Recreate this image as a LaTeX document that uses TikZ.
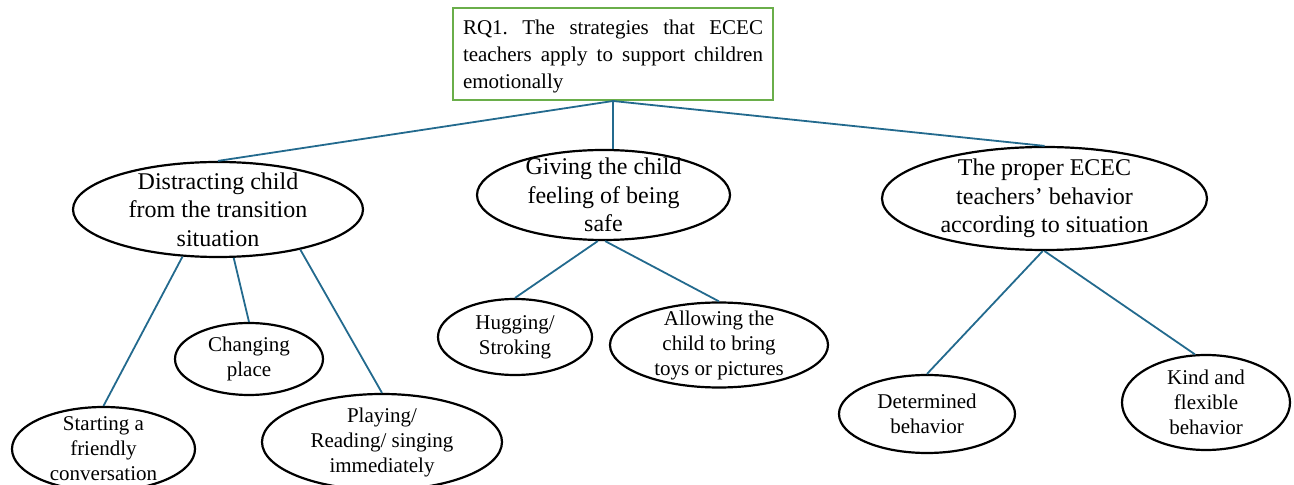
\documentclass[tikz,border=0pt]{standalone}
\usepackage{fontspec}
\setmainfont{Liberation Serif}
\frenchspacing
\usetikzlibrary{shapes.geometric}
\definecolor{rqgreen}{RGB}{106,174,74}
\definecolor{linkblue}{RGB}{35,106,142}
\tikzset{rq box/.style = {draw=rqgreen, line width=1pt, text width=150pt, text height=10pt, align=justify, inner xsep=5pt, minimum height=46pt, font=\fontsize{10.5}{13.5}\selectfont}}
\tikzset{theme oval/.style = {ellipse, draw, line width=1.1pt, inner sep=-30pt, align=center, font=\fontsize{12}{14.3}\selectfont}}
\tikzset{code oval/.style = {ellipse, draw, line width=1.1pt, inner sep=-30pt, align=center, font=\fontsize{10.5}{12.5}\selectfont}}
\tikzset{link/.style = {draw=linkblue, line width=0.9pt}}

\begin{document}
\begin{tikzpicture}[x=0.5pt, y=-0.5pt]
	\useasboundingbox (0,0) rectangle (1294,485);
	
	\node[rq box] (rq) at (613,54) {RQ1. The strategies that ECEC teachers apply to support children emotionally};
	
	\node[theme oval, minimum width=145pt, minimum height=47.5pt] (distract) at (218,209.5) {Distracting child\\from the transition\\situation};
	\node[theme oval, minimum width=126.5pt, minimum height=45pt] (safe) at (603.5,195) {Giving the child\\feeling of being\\safe};
	\node[theme oval, minimum width=162.5pt, minimum height=51.5pt] (proper) at (1044.5,198.5) {The proper ECEC\\teachers’ behavior\\according to situation};
	
	\node[code oval, minimum width=91.5pt, minimum height=42pt] (talk) at (103.5,449) {Starting a\\friendly\\conversation};
	\node[code oval, minimum width=74pt, minimum height=36pt] (place) at (249,359) {Changing\\place};
	\node[code oval, minimum width=120pt, minimum height=48pt] (play) at (382,442) {Playing/\\Reading/ singing\\immediately};
	\node[code oval, minimum width=77pt, minimum height=38pt] (hug) at (515,337) {Hugging/\\Stroking};
	\node[code oval, minimum width=109pt, minimum height=42.5pt] (toys) at (719,345) {Allowing the\\child to bring\\toys or pictures};
	\node[code oval, minimum width=88pt, minimum height=39pt] (firm) at (927,414) {Determined\\behavior};
	\node[code oval, minimum width=84pt, minimum height=47.5pt] (kind) at (1206,402.5) {Kind and\\flexible\\behavior};
	
	\draw[link] (rq.south) -- (distract.north);
	\draw[link] (rq.south) -- (rq.south |- safe.north);
	\draw[link] (rq.south) -- (proper.north);
	\draw[link] (distract.233) -- (talk.north);
	\draw[link] (distract.288) -- (place.north);
	\draw[link] (distract.334) -- (play.north);
	\draw[link] (safe.263) -- (hug.north);
	\draw[link] (safe.272) -- (toys.north);
	\draw[link] (proper.268) -- (firm.north);
	\draw[link] (proper.south) -- (kind.103);
\end{tikzpicture}
\end{document}
